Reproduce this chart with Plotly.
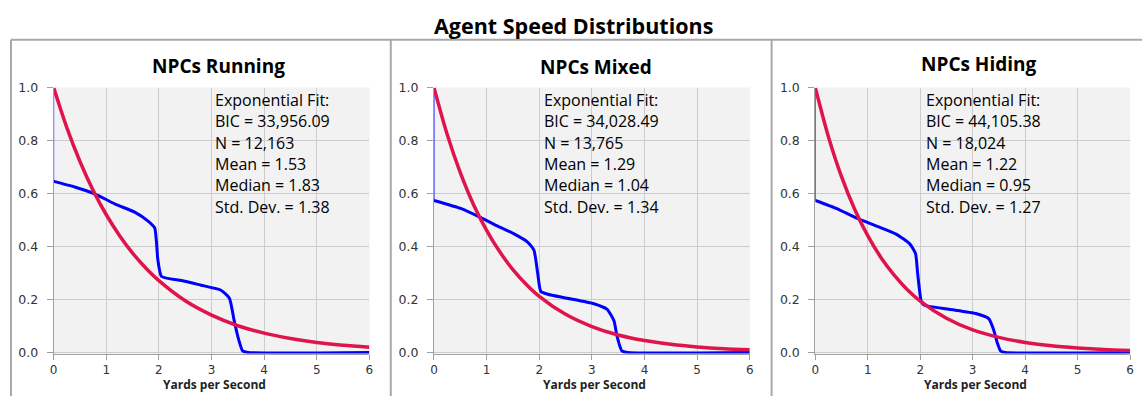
import plotly.graph_objects as go

W, H = 1146, 402

main_title = "Agent Speed Distributions"
panel_titles = ["NPCs Running", "NPCs Mixed", "NPCs Hiding"]
x_title = "Yards per Second"

run_x = [0, 0.4, 0.79, 1.17, 1.54, 1.80, 1.92, 1.98, 2.05, 2.43, 2.80, 3.18, 3.34, 3.43, 3.50, 3.59, 3.69, 6]
run_y = [0.646, 0.625, 0.598, 0.56, 0.53, 0.495, 0.47, 0.35, 0.287, 0.272, 0.254, 0.235, 0.205, 0.12, 0.06, 0.006, 0.0, 0.0]
mix_x = [0, 0.52, 0.85, 1.15, 1.53, 1.78, 1.90, 1.97, 2.03, 2.16, 2.53, 3.04, 3.29, 3.42, 3.48, 3.57, 3.67, 6]
mix_y = [0.574, 0.543, 0.513, 0.483, 0.447, 0.417, 0.386, 0.30, 0.23, 0.22, 0.205, 0.184, 0.163, 0.12, 0.06, 0.006, 0.0, 0.0]
hid_x = [0, 0.41, 0.79, 1.17, 1.54, 1.80, 1.91, 1.95, 2.02, 2.08, 2.55, 3.06, 3.31, 3.40, 3.47, 3.53, 3.62, 6]
hid_y = [0.574, 0.543, 0.507, 0.477, 0.447, 0.41, 0.374, 0.30, 0.193, 0.178, 0.163, 0.147, 0.127, 0.085, 0.036, 0.006, 0.0, 0.0]

# Exponential fit curves (red)
fit_x = [0, 0.25, 0.5, 0.75, 1, 1.25, 1.5, 1.75, 2, 2.5, 3, 3.5, 4, 4.5, 5, 5.5, 6]
run_fit = [1.0, 0.849, 0.721, 0.612, 0.520, 0.442, 0.375, 0.319, 0.271, 0.195, 0.141, 0.101, 0.073, 0.053, 0.038, 0.027, 0.020]
mix_fit = [1.0, 0.824, 0.679, 0.559, 0.461, 0.380, 0.313, 0.258, 0.212, 0.144, 0.098, 0.066, 0.045, 0.031, 0.021, 0.014, 0.010]
hid_fit = [1.0, 0.815, 0.664, 0.541, 0.441, 0.359, 0.293, 0.238, 0.194, 0.129, 0.085, 0.057, 0.038, 0.025, 0.017, 0.011, 0.007]

stat_lines = [
    ["Exponential Fit:", "BIC = 33,956.09", "N = 12,163", "Mean = 1.53", "Median = 1.83", "Std. Dev. = 1.38"],
    ["Exponential Fit:", "BIC = 34,028.49", "N = 13,765", "Mean = 1.29", "Median = 1.04", "Std. Dev. = 1.34"],
    ["Exponential Fit:", "BIC = 44,105.38", "N = 18,024", "Mean = 1.22", "Median = 0.95", "Std. Dev. = 1.27"],
]

x_ticks = [0, 1, 2, 3, 4, 5, 6]
y_ticks = [0.0, 0.2, 0.4, 0.6, 0.8, 1.0]
y_ticklabels = ["0.0", "0.2", "0.4", "0.6", "0.8", "1.0"]

series = [(run_x, run_y, run_fit), (mix_x, mix_y, mix_fit), (hid_x, hid_y, hid_fit)]

# layout geometry (pixels)
plot_left = [50, 433, 817]
plot_right = [368, 751, 1134]
plot_top, plot_bottom = 82.5, 358
title_cx = [216, 596, 982]
title_y = [60, 61, 58]
text_left = [210, 542, 926]
text_y0 = 95
text_dy = 22.2
panel_edges = [7, 389.5, 773, 1146]

BLUE = "#0000FF"
RED = "#E0144C"
GRID = "#CCCCCC"
FONT = "Open Sans"
TICKFONT = "DejaVu Sans"

fig = go.Figure()
layout = dict(
    width=W, height=H, margin=dict(l=0, r=0, t=0, b=0),
    paper_bgcolor="white", showlegend=False,
)
annotations = []
shapes = []

def px(x):
    return x / W

def py(y):
    return 1 - y / H

for i, (bx, by, rf) in enumerate(series):
    xa = "x" if i == 0 else f"x{i+1}"
    ya = "y" if i == 0 else f"y{i+1}"
    fig.add_trace(go.Scatter(x=[bx[0], bx[0]], y=[1.0, by[0]], mode="lines",
                             line=dict(color=BLUE, width=1), xaxis=xa, yaxis=ya,
                             hoverinfo="skip"))
    fig.add_trace(go.Scatter(x=bx, y=by, mode="lines",
                             line=dict(color=BLUE, width=3, shape="spline", smoothing=0.5),
                             xaxis=xa, yaxis=ya))
    fig.add_trace(go.Scatter(x=fit_x, y=rf, mode="lines",
                             line=dict(color=RED, width=3.5, shape="spline", smoothing=0.8),
                             xaxis=xa, yaxis=ya))
    xkey = "xaxis" if i == 0 else f"xaxis{i+1}"
    ykey = "yaxis" if i == 0 else f"yaxis{i+1}"
    layout[xkey] = dict(
        domain=[px(plot_left[i]), px(plot_right[i])], anchor=ya,
        range=[0, 6], tickvals=x_ticks, ticktext=[str(t) for t in x_ticks],
        showgrid=True, gridcolor=GRID, gridwidth=1,
        showline=True, linecolor="#A0A0A0", linewidth=1,
        ticks="outside", ticklen=5, tickcolor="#A0A0A0",
        tickfont=dict(family=TICKFONT, size=12, color="#333"),
        zeroline=False, fixedrange=True,
    )
    layout[ykey] = dict(
        domain=[py(plot_bottom), py(plot_top)], anchor=xa,
        range=[-0.004, 1.0], tickvals=y_ticks, ticktext=y_ticklabels,
        showgrid=True, gridcolor=GRID, gridwidth=1,
        showline=True, linecolor="#A0A0A0", linewidth=1,
        ticks="outside", ticklen=6, tickcolor="#A0A0A0",
        ticklabelstandoff=6,
        tickfont=dict(family=TICKFONT, size=12.5, color="#333"),
        zeroline=False, fixedrange=True,
    )
    shapes.append(dict(type="rect", xref="paper", yref="paper",
                       x0=px(plot_left[i]), x1=px(plot_right[i]),
                       y0=py(plot_bottom), y1=py(plot_top),
                       line=dict(width=0), fillcolor="#F2F2F2", layer="below"))
    annotations.append(dict(text=f"<b>{panel_titles[i]}</b>", x=px(title_cx[i]), y=py(title_y[i]),
                            xref="paper", yref="paper", showarrow=False,
                            xanchor="center", yanchor="middle",
                            font=dict(family=FONT, size=19, color="black")))
    annotations.append(dict(text=f"<b>{x_title}</b>", x=px((plot_left[i] + plot_right[i]) / 2 + 3),
                            y=py(390), xref="paper", yref="paper", showarrow=False,
                            xanchor="center", yanchor="middle",
                            font=dict(family=FONT, size=12, color="#222")))
    for j, line in enumerate(stat_lines[i]):
        annotations.append(dict(text=line, x=px(text_left[i]), y=py(text_y0 + j * text_dy),
                                xref="paper", yref="paper", showarrow=False,
                                xanchor="left", yanchor="middle",
                                font=dict(family=FONT, size=16, color="black")))

annotations.append(dict(text=f"<b>{main_title}</b>", x=0.5, y=py(18), xref="paper", yref="paper",
                        showarrow=False, xanchor="center", yanchor="middle",
                        font=dict(family=FONT, size=21.5, color="black")))

BORDER = "#A8A8A8"
shapes.append(dict(type="line", xref="paper", yref="paper", x0=px(panel_edges[0]), x1=1,
                   y0=py(33), y1=py(33), line=dict(color=BORDER, width=2)))
for e in panel_edges[:3]:
    shapes.append(dict(type="line", xref="paper", yref="paper", x0=px(e), x1=px(e),
                       y0=py(33), y1=0, line=dict(color=BORDER, width=2)))

layout["annotations"] = annotations
layout["shapes"] = shapes
layout["plot_bgcolor"] = "#F2F2F2"
fig.update_layout(**layout)
fig.write_html("out.html")
